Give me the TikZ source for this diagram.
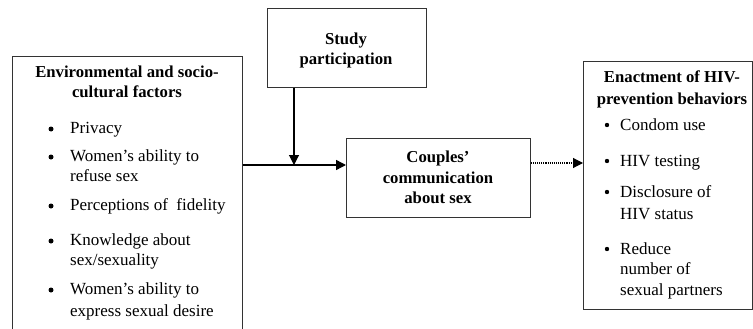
\documentclass[tikz,border=0pt]{standalone}
\usepackage{fontspec}
\setmainfont{Liberation Serif}
\usetikzlibrary{arrows.meta}
\begin{document}
\begin{tikzpicture}[x=1pt,y=-1pt,
	box/.style={draw=black!80, line width=0.7pt, inner sep=0pt},
	head/.style={font=\fontsize{16.7}{20}\selectfont\bfseries, anchor=mid, inner sep=0pt, yshift=-2pt},
	entry/.style={font=\fontsize{17}{20}\selectfont, anchor=mid west, inner sep=0pt, yshift=-2pt},
	link/.style={-{Triangle[length=10pt,width=10pt]}, line width=1.4pt}]
\useasboundingbox (0,0) rectangle (753,329);

% Kästen
\node[box, anchor=north west, minimum width=230pt, minimum height=290pt] (env) at (12,56) {};
\node[box, anchor=north west, minimum width=159pt, minimum height=79pt] (study) at (267,8) {};
\node[box, anchor=north west, minimum width=184pt, minimum height=79pt] (comm) at (346,138) {};
\node[box, anchor=north west, minimum width=169pt, minimum height=248pt] (hiv) at (583,61) {};

% Überschriften
\node[head] (envA) at (127,73) {Environmental and socio-};
\node[head] (envB) at (127,93) {cultural factors};
\node[head] (studyA) at (346,40) {Study};
\node[head] (studyB) at (346,60) {participation};
\node[head] (commA) at (438,158) {Couples’};
\node[head] (commB) at (438,179) {communication};
\node[head] (commC) at (438,199) {about sex};
\node[head] (hivA) at (672,78) {Enactment of HIV-};
\node[head] (hivB) at (672,100) {prevention behaviors};

% Punkte links
\foreach \y in {129,157,206,241,290}
	\fill (51,\y) circle (2.5);
\foreach \y/\t in {129/Privacy, 157/Women’s ability to, 177/refuse sex,
	206/Perceptions of~ fidelity, 241/Knowledge about, 261/{sex/sexuality},
	290/Women’s ability to, 312/express sexual desire}
	\node[entry] at (70,\y) {\t};

% Punkte rechts
\foreach \y in {126,162,193,250}
	\fill (607,\y-1) circle (2.2);
\foreach \y/\t in {126/Condom use, 162/HIV testing, 193/Disclosure of, 215/HIV status,
	250/Reduce, 270/number of, 291/sexual partners}
	\node[entry] at (620,\y) {\t};

% Pfeile
\coordinate (join) at (294,165);
\coordinate (tap) at (0,163);
\draw[link] (env.east |- join) -- (comm.west |- join);
\draw[link, line width=1.1pt] (study.south -| join) -- (join);
\draw[link, line width=1.1pt, densely dotted] (comm.east |- tap) -- (hiv.west |- tap);

\end{tikzpicture}
\end{document}
